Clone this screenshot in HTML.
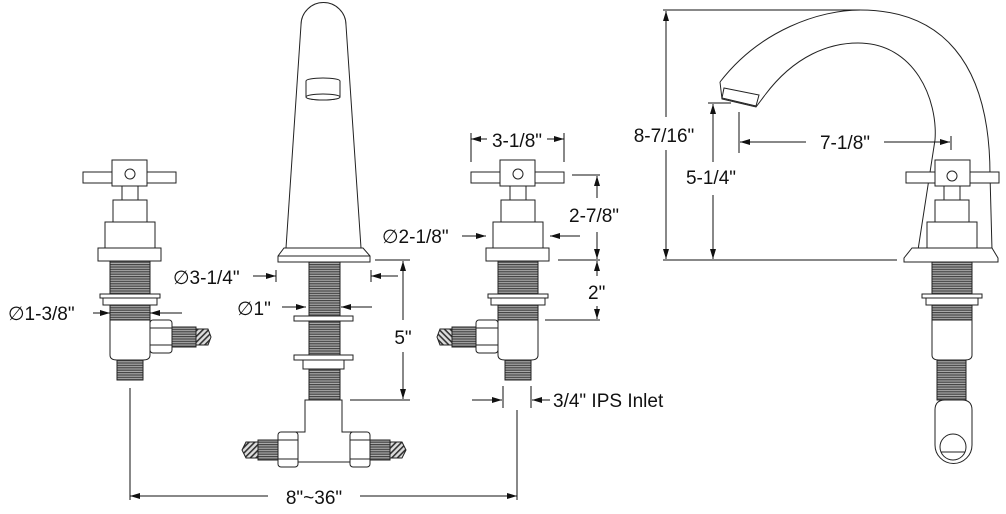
<!DOCTYPE html>
<html><head><meta charset="utf-8"><style>
html,body{margin:0;padding:0;background:#fff;}
svg{display:block;}
text{font-family:"Liberation Sans",sans-serif;font-size:19px;fill:#111;}
</style></head><body>
<svg width="1006" height="514" viewBox="0 0 1006 514" xmlns="http://www.w3.org/2000/svg">
<defs>
<pattern id="th" width="4" height="2.4" patternUnits="userSpaceOnUse"><rect width="4" height="2.4" fill="#aaa"/><rect width="4" height="1.2" fill="#444"/></pattern>
<pattern id="br" width="4" height="4" patternUnits="userSpaceOnUse" patternTransform="rotate(45)"><rect width="4" height="4" fill="#ddd"/><rect width="1.6" height="4" fill="#333"/></pattern>
<marker id="a" viewBox="0 0 10 6" refX="10" refY="3" markerWidth="10" markerHeight="6" markerUnits="userSpaceOnUse" orient="auto"><path d="M0,0L10,3L0,6z" fill="#111"/></marker>
<g id="valve" fill="#fff" stroke="#222" stroke-width="1">
<rect x="-47" y="172" width="93" height="11"/>
<rect x="-18" y="160" width="35" height="26"/>
<circle cx="0" cy="174" r="5"/>
<rect x="-8" y="186" width="16" height="14"/>
<rect x="-17" y="200" width="34" height="22"/>
<rect x="-25" y="222" width="50" height="26"/>
<rect x="-32" y="248" width="63" height="13"/>
<rect x="-20" y="261" width="40" height="34" fill="url(#th)"/>
<rect x="-30" y="294" width="60" height="4"/>
<rect x="-27" y="298" width="54" height="7"/>
<rect x="-20" y="305" width="40" height="15" fill="url(#th)"/>
<path d="M-20,320V355Q-20,360 -13,360H13Q20,360 20,355V320Z"/>
<rect x="-13" y="360" width="26" height="20" fill="url(#th)"/>
</g>
<g id="side" stroke="#222" stroke-width="1">
<path d="M20,322Q30,337 20,352Z" fill="#fff"/>
<rect x="20" y="320" width="22" height="33" rx="3" fill="#fff"/>
<line x1="20" y1="328" x2="42" y2="328"/><line x1="20" y1="345" x2="42" y2="345"/>
<rect x="42" y="327" width="24" height="20" fill="url(#th)"/>
<path d="M66,329H78L81,337L78,345H66Z" fill="url(#br)"/>
</g>
</defs>

<use href="#valve" x="130"/>
<use href="#side" x="130"/>
<use href="#valve" x="518"/>
<g transform="translate(1036,0) scale(-1,1)"><use href="#side" x="518"/></g>

<g fill="#fff" stroke="#222" stroke-width="1">
<path d="M286,248L301,25A22.5,22.5 0 0 1 346,25L361,248Z"/>
<ellipse cx="323" cy="81" rx="17" ry="3"/>
<path d="M306,81V97A17,3 0 0 0 340,97V81"/>
<ellipse cx="323" cy="97" rx="17" ry="3"/>
<path d="M284,248H363L370,256V262H278V256Z"/>
<line x1="278" y1="256" x2="370" y2="256"/>
<rect x="309" y="262" width="31" height="138" fill="url(#th)"/>
<rect x="294" y="316" width="59" height="5"/>
<rect x="294" y="355" width="59" height="5"/>
<rect x="303" y="360" width="41" height="9"/>
<path d="M305,400V432H290V462H356V432H342V400Z"/>
<rect x="278" y="432" width="20" height="35" rx="3"/><line x1="278" y1="440" x2="298" y2="440"/><line x1="278" y1="459" x2="298" y2="459"/>
<rect x="350" y="432" width="20" height="35" rx="3"/><line x1="350" y1="440" x2="370" y2="440"/><line x1="350" y1="459" x2="370" y2="459"/>
<rect x="258" y="440" width="20" height="20" fill="url(#th)"/>
<rect x="370" y="440" width="20" height="20" fill="url(#th)"/>
<path d="M258,442H246L242,450L246,458H258Z" fill="url(#br)"/>
<path d="M390,442H402L406,450L402,458H390Z" fill="url(#br)"/>
</g>

<g fill="none" stroke="#222" stroke-width="1">
<path d="M720,82C760,30 820,10 860,10C940,10 990,60 990,175L992,250"/>
<path d="M765,95C795,55 830,43 858,43C915,43 938,100 935,140L918,250"/>
<path d="M720,82L722,99L756,107L765,95" fill="#fff"/>
<path d="M724,88L759,95L756,106L722,98Z" fill="#fff"/>
</g>
<g fill="#fff" stroke="#222" stroke-width="1">
<rect x="906" y="172" width="93" height="11"/>
<rect x="935" y="160" width="35" height="26"/>
<circle cx="952" cy="176" r="5"/>
<rect x="944" y="186" width="16" height="14"/>
<rect x="935" y="200" width="34" height="22"/>
<rect x="927" y="222" width="50" height="26"/>
<path d="M912,248H992L998,258V262H904V258Z"/>
<rect x="932" y="262" width="40" height="32" fill="url(#th)"/>
<rect x="922" y="294" width="60" height="4"/>
<rect x="926" y="298" width="52" height="7"/>
<rect x="932" y="305" width="40" height="15" fill="url(#th)"/>
<path d="M932,320V355Q932,360 939,360H965Q972,360 972,355V320Z"/>
<rect x="937" y="360" width="29" height="40" fill="url(#th)"/>
<path d="M935,410Q935,400 945,400H962Q972,400 972,410V445A18.5,18.5 0 0 1 935,445Z"/>
<circle cx="953" cy="447" r="13"/>
<line x1="941" y1="452" x2="965" y2="452"/>
</g>

<g stroke="#111" stroke-width="1" fill="none">
<line x1="130" y1="388" x2="130" y2="500"/>
<line x1="517" y1="410" x2="517" y2="500"/>
<line x1="268" y1="496" x2="130" y2="496" marker-end="url(#a)"/>
<line x1="360" y1="496" x2="517" y2="496" marker-end="url(#a)"/>
<line x1="93" y1="313" x2="110" y2="313" marker-end="url(#a)"/>
<line x1="182" y1="313" x2="150" y2="313" marker-end="url(#a)"/>
<line x1="253" y1="276" x2="276" y2="276" marker-end="url(#a)"/>
<line x1="276" y1="270" x2="276" y2="282"/>
<line x1="398" y1="276" x2="371" y2="276" marker-end="url(#a)"/>
<line x1="371" y1="270" x2="371" y2="282"/>
<line x1="282" y1="307" x2="306" y2="307" marker-end="url(#a)"/>
<line x1="372" y1="307" x2="341" y2="307" marker-end="url(#a)"/>
<line x1="375" y1="260" x2="410" y2="260"/>
<line x1="350" y1="400" x2="410" y2="400"/>
<line x1="403" y1="320" x2="403" y2="261" marker-end="url(#a)"/>
<line x1="403" y1="352" x2="403" y2="399" marker-end="url(#a)"/>
<line x1="471" y1="133" x2="471" y2="162"/>
<line x1="564" y1="133" x2="564" y2="162"/>
<line x1="487" y1="139" x2="471" y2="139" marker-end="url(#a)"/>
<line x1="547" y1="139" x2="564" y2="139" marker-end="url(#a)"/>
<line x1="462" y1="236" x2="486" y2="236" marker-end="url(#a)"/>
<line x1="580" y1="236" x2="550" y2="236" marker-end="url(#a)"/>
<line x1="572" y1="175" x2="600" y2="175"/>
<line x1="558" y1="260" x2="600" y2="260"/>
<line x1="545" y1="320" x2="600" y2="320"/>
<line x1="597" y1="198" x2="597" y2="176" marker-end="url(#a)"/>
<line x1="597" y1="232" x2="597" y2="259" marker-end="url(#a)"/>
<line x1="597" y1="276" x2="597" y2="261" marker-end="url(#a)"/>
<line x1="597" y1="306" x2="597" y2="319" marker-end="url(#a)"/>
<line x1="503" y1="386" x2="503" y2="408"/>
<line x1="531" y1="386" x2="531" y2="408"/>
<line x1="472" y1="400" x2="502" y2="400" marker-end="url(#a)"/>
<line x1="550" y1="400" x2="532" y2="400" marker-end="url(#a)"/>
<line x1="663" y1="10" x2="860" y2="10"/>
<line x1="663" y1="260" x2="897" y2="260"/>
<line x1="666" y1="117" x2="666" y2="11" marker-end="url(#a)"/>
<line x1="666" y1="150" x2="666" y2="259" marker-end="url(#a)"/>
<line x1="708" y1="103" x2="731" y2="103"/>
<line x1="713" y1="162" x2="713" y2="104" marker-end="url(#a)"/>
<line x1="713" y1="195" x2="713" y2="259" marker-end="url(#a)"/>
<line x1="739" y1="112" x2="739" y2="153"/>
<line x1="951" y1="136" x2="951" y2="150"/>
<line x1="806" y1="142" x2="740" y2="142" marker-end="url(#a)"/>
<line x1="884" y1="142" x2="950" y2="142" marker-end="url(#a)"/>
</g>

<g>
<text x="314" y="504" text-anchor="middle">8"~36"</text>
<text x="8" y="320">∅1-3/8"</text>
<text x="173" y="284">∅3-1/4"</text>
<text x="237" y="315">∅1"</text>
<text x="403" y="344" text-anchor="middle">5"</text>
<text x="517" y="147" text-anchor="middle">3-1/8"</text>
<text x="382" y="243">∅2-1/8"</text>
<text x="569" y="222">2-7/8"</text>
<text x="588" y="299">2"</text>
<text x="553" y="407">3/4" IPS Inlet</text>
<text x="664" y="142" text-anchor="middle">8-7/16"</text>
<text x="711" y="184" text-anchor="middle">5-1/4"</text>
<text x="845" y="149" text-anchor="middle">7-1/8"</text>
</g>
</svg>
</body></html>
